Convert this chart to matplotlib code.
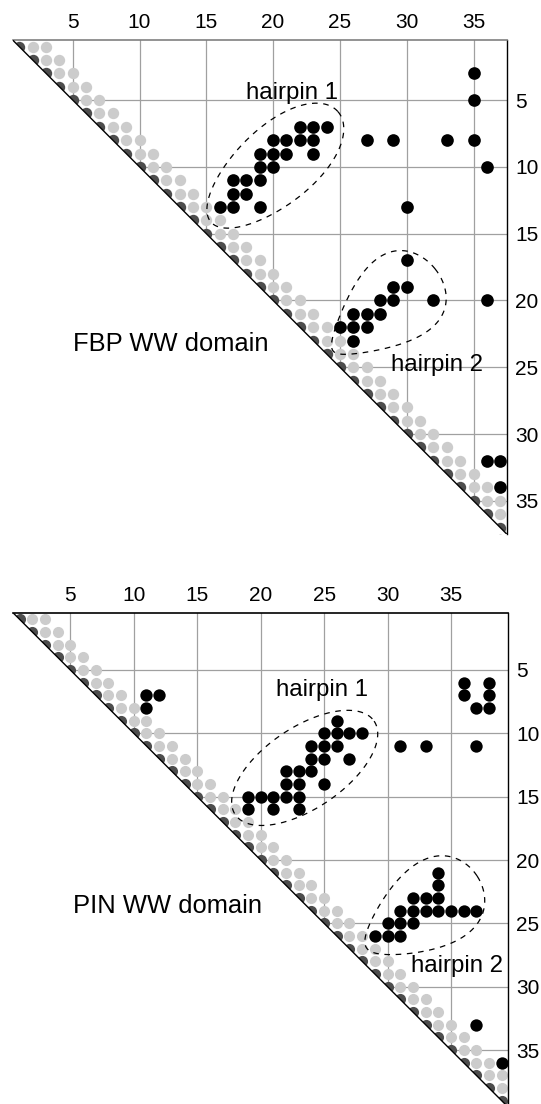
import numpy as np
import matplotlib
matplotlib.use('Agg')
from matplotlib import pyplot as plt
from matplotlib.patches import Polygon

plt.rcParams['font.family'] = ['Liberation Sans', 'DejaVu Sans']

# contacts as (row i, column j), i < j
fbp_len = 37
fbp_contacts = [(3, 35), (5, 35), (7, 22), (7, 23), (7, 24),
                (8, 20), (8, 21), (8, 22), (8, 23), (8, 27), (8, 29), (8, 33), (8, 35),
                (9, 19), (9, 20), (9, 21), (9, 23), (10, 19), (10, 20), (10, 36),
                (11, 17), (11, 18), (11, 19), (12, 17), (12, 18),
                (13, 16), (13, 17), (13, 19), (13, 30), (17, 30),
                (19, 29), (19, 30), (20, 28), (20, 29), (20, 32), (20, 36),
                (21, 26), (21, 27), (21, 28), (22, 25), (22, 26), (22, 27), (23, 26),
                (32, 36), (32, 37), (34, 37)]

pin_len = 39
pin_contacts = [(6, 36), (6, 38), (7, 36), (7, 38), (8, 37), (8, 38),
                (7, 11), (7, 12), (8, 11),
                (9, 26), (10, 25), (10, 26), (10, 27), (10, 28),
                (11, 24), (11, 25), (11, 26), (11, 31), (11, 33), (11, 37),
                (12, 24), (12, 25), (12, 27), (13, 22), (13, 23), (13, 24),
                (14, 22), (14, 23), (14, 25),
                (15, 19), (15, 20), (15, 21), (15, 22), (15, 23),
                (16, 19), (16, 21), (16, 23),
                (21, 34), (22, 34), (23, 32), (23, 33), (23, 34),
                (24, 31), (24, 32), (24, 33), (24, 34), (24, 35), (24, 36), (24, 37),
                (25, 30), (25, 31), (25, 32), (26, 29), (26, 30), (26, 31),
                (33, 37), (36, 39)]

ticks = [5, 10, 15, 20, 25, 30, 35]


def egg(ax, cx, cy, a, b, ang, k=0.0):
    # dashed closed loop, blunt end towards +a when k > 0
    t = np.linspace(0, 2 * np.pi, 400)
    u = a * np.cos(t)
    v = b * np.sin(t) * (1 + k * np.cos(t))
    r = np.deg2rad(ang)
    x = cx + u * np.cos(r) - v * np.sin(r)
    y = cy + u * np.sin(r) + v * np.cos(r)
    ax.plot(x, y, color='k', lw=0.9, ls=(0, (4.5, 4.5)), zorder=6)


def contact_map(ax, n, contacts, dot, top_color):
    idx = np.arange(1, n + 1)
    # trivial contacts next to the diagonal
    ax.plot(idx, idx, 'o', ms=dot * 0.9, color='#4d4d4d', mec='none', zorder=2)
    for off in (1, 2):
        ax.plot(idx[:-off] + off, idx[:-off], 'o', ms=dot * 0.9, color='#cccccc',
                mec='none', zorder=2)
    ci = [c[0] for c in contacts]
    cj = [c[1] for c in contacts]
    ax.plot(cj, ci, 'o', ms=dot, color='k', mec='none', zorder=3)

    lo, hi = 0.5, n + 0.5
    ax.add_patch(Polygon([(lo, lo), (lo, hi), (hi, hi)], closed=True,
                         facecolor='white', edgecolor='none', zorder=4))
    ax.plot([lo, hi], [lo, hi], color='k', lw=1.0, zorder=5)

    ax.set_xlim(lo, hi)
    ax.set_ylim(hi, lo)
    ax.set_xticks(ticks)
    ax.set_yticks(ticks)
    ax.xaxis.tick_top()
    ax.yaxis.tick_right()
    ax.tick_params(length=0, labelsize=15, pad=6)
    ax.grid(True, color='#a0a0a0', lw=0.9, zorder=0)
    ax.set_axisbelow(True)
    ax.spines['left'].set_visible(False)
    ax.spines['bottom'].set_visible(False)
    ax.spines['top'].set_color(top_color)
    ax.spines['top'].set_linewidth(1.2)
    ax.spines['right'].set_color('k')
    ax.spines['right'].set_linewidth(1.0)


fig = plt.figure(figsize=(5.41, 11.04), dpi=100)

ax1 = fig.add_axes([0.0233, 0.5161, 0.9137, 0.4477])
contact_map(ax1, fbp_len, fbp_contacts, 9.1, '#808080')
egg(ax1, 20.1, 10.0, 6.3, 2.9, -41, 0.1)
egg(ax1, 28.3, 20.7, 4.9, 3.0, -39, 0.5)
ax1.text(21.45, 4.9, 'hairpin 1', fontsize=17.3, ha='center', va='baseline', zorder=7)
ax1.text(32.3, 25.28, 'hairpin 2', fontsize=17.3, ha='center', va='baseline', zorder=7)
ax1.text(12.36, 23.8, 'FBP WW domain', fontsize=18.4, ha='center', va='baseline', zorder=7)

ax2 = fig.add_axes([0.0244, -0.0028, 0.9148, 0.4476])
contact_map(ax2, pin_len, pin_contacts, 8.9, 'k')
egg(ax2, 23.47, 12.73, 6.6, 3.2, -34, 0.0)
egg(ax2, 32.7, 24.1, 5.2, 3.2, -33, 0.4)
ax2.text(24.8, 7.05, 'hairpin 1', fontsize=17.3, ha='center', va='baseline', zorder=7)
ax2.text(35.5, 28.8, 'hairpin 2', fontsize=17.3, ha='center', va='baseline', zorder=7)
ax2.text(12.65, 24.2, 'PIN WW domain', fontsize=18.4, ha='center', va='baseline', zorder=7)

fig.savefig('out.png', dpi=100)
